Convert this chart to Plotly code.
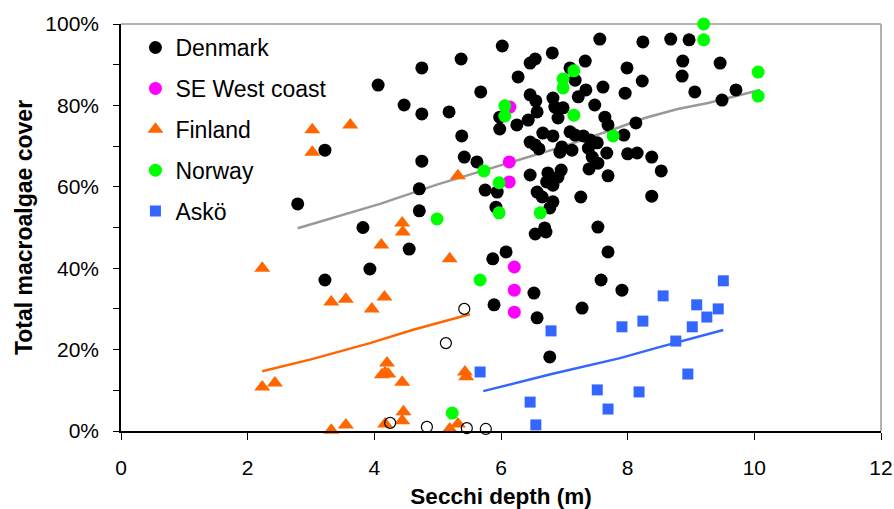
import plotly.graph_objects as go

# ---------------- data ----------------
denmark_x = [2.79, 3.22, 3.22, 3.82, 3.93, 4.06, 4.47, 4.75, 4.75, 5.18, 5.37, 6.02, 5.68, 5.38,
             4.75, 5.42, 5.62, 4.71, 4.71, 5.75, 5.94, 5.92, 5.98, 5.98, 6.25, 6.27, 6.46, 6.54,
             6.81, 6.46, 6.55, 6.43, 6.57, 6.82, 6.85, 6.98, 6.90, 6.66, 6.82, 6.46, 6.54, 6.60,
             6.96, 6.93, 7.12, 7.09, 7.17, 7.22, 7.17, 7.09, 7.33, 7.34, 7.56, 7.61, 7.48, 7.64,
             7.69, 7.30, 7.41, 7.52, 7.38, 7.44, 7.53, 7.39, 7.67, 7.69, 7.96, 7.94, 8.00, 7.99,
             6.46, 6.74, 6.95, 6.90, 6.72, 6.82, 6.57, 6.65, 6.82, 6.77, 7.26, 7.53, 6.69, 8.24,
             8.68, 8.97, 8.23, 8.87, 8.86, 9.46, 9.06, 9.71, 9.49, 8.13, 8.15, 8.38, 8.53, 8.38,
             4.55, 5.87, 6.08, 5.89, 6.54, 6.71, 7.69, 6.52, 6.57, 7.28, 7.58, 7.91, 6.77]
denmark_y = [55.8, 69.0, 37.1, 50.0, 39.8, 85.0, 80.1, 89.2, 77.9, 78.4, 91.4, 94.6, 83.3, 72.5,
             66.3, 67.3, 66.1, 59.5, 54.1, 59.2, 58.7, 55.0, 77.1, 74.2, 75.2, 87.0, 90.4, 91.4,
             92.9, 82.6, 81.1, 76.4, 78.4, 81.8, 79.6, 79.4, 76.9, 73.2, 72.5, 71.0, 70.3, 69.3,
             69.8, 68.5, 69.0, 73.5, 72.7, 82.1, 86.2, 89.2, 90.9, 83.8, 96.3, 84.5, 80.1, 77.1,
             75.2, 72.5, 71.5, 70.8, 69.5, 67.3, 65.8, 64.4, 68.3, 62.7, 83.0, 72.7, 68.1, 89.2,
             62.9, 63.4, 64.1, 62.4, 61.2, 60.4, 58.7, 57.5, 56.3, 54.8, 57.5, 50.1, 49.9, 95.6,
             96.3, 96.1, 86.0, 90.9, 87.2, 90.4, 83.3, 83.8, 81.3, 75.7, 68.3, 67.3, 63.9, 57.7,
             44.7, 42.3, 44.0, 31.0, 48.4, 48.9, 44.0, 33.9, 27.8, 30.2, 37.1, 34.6, 18.2]

se_x = [6.14, 6.13, 6.13, 6.21, 6.21, 6.21]
se_y = [79.6, 66.1, 61.2, 40.3, 34.6, 29.2]

finland_x = [3.02, 3.62, 3.02, 5.32, 4.44, 4.45, 2.23, 3.32, 3.55, 3.96, 4.11, 4.16, 5.19,
             2.23, 2.43, 3.32, 3.55, 4.20, 4.17, 4.12, 4.22, 4.44, 5.43, 5.45, 4.46, 4.44,
             4.17, 5.19, 5.32]
finland_y = [74.0, 75.2, 68.5, 62.7, 51.1, 48.9, 40.0, 31.7, 32.4, 30.0, 45.7, 32.9, 42.3,
             10.8, 11.8, 0.2, 1.5, 16.7, 14.3, 13.8, 14.0, 12.0, 14.5, 13.3, 4.7, 2.5,
             1.7, 0.5, 1.7]

norway_x = [6.06, 6.06, 7.15, 6.98, 6.98, 7.15, 7.77, 5.73, 5.97, 5.97, 6.62, 4.99,
            9.20, 9.20, 10.06, 10.06, 5.67, 5.23]
norway_y = [79.9, 77.4, 88.5, 86.5, 84.3, 77.6, 72.5, 63.9, 61.0, 53.6, 53.6, 52.1,
            100.0, 96.1, 88.2, 82.3, 37.1, 4.4]

asko_x = [5.67, 6.79, 7.91, 6.46, 6.55, 7.52, 7.69, 8.24, 8.56, 9.09, 9.25, 9.43, 9.51,
          9.02, 8.76, 8.95, 8.18]
asko_y = [14.5, 24.6, 25.6, 7.1, 1.5, 10.1, 5.4, 27.0, 33.2, 31.0, 28.0, 30.0, 36.9,
          25.6, 22.1, 14.0, 9.6]

other_x = [5.42, 5.13, 4.25, 4.83, 5.46, 5.76]
other_y = [30.0, 21.6, 2.0, 1.0, 0.7, 0.5]

trend_all_x = [2.79, 4.09, 5.0, 5.99, 7.0, 7.88, 8.27, 8.79, 9.27, 10.09]
trend_all_y = [49.8, 55.8, 60.6, 65.2, 70.0, 74.7, 76.9, 79.1, 80.6, 83.8]

trend_fin_x = [2.23, 3.0, 3.93, 4.6, 5.51]
trend_fin_y = [14.7, 17.6, 21.6, 24.8, 28.7]

trend_asko_x = [5.72, 6.8, 7.88, 8.5, 9.51]
trend_asko_y = [9.8, 14.0, 17.9, 20.6, 24.8]

x_ticks = [0, 2, 4, 6, 8, 10, 12]
y_ticks = [0, 20, 40, 60, 80, 100]
y_tick_text = ["0%", "20%", "40%", "60%", "80%", "100%"]

# ---------------- figure ----------------
FONT = "Liberation Sans, Arial, sans-serif"
fig = go.Figure()

fig.add_trace(go.Scatter(x=trend_all_x, y=trend_all_y, mode="lines",
                         line=dict(color="#999999", width=2.5), showlegend=False, hoverinfo="skip"))
fig.add_trace(go.Scatter(x=trend_fin_x, y=trend_fin_y, mode="lines",
                         line=dict(color="#FF6600", width=2.5), showlegend=False, hoverinfo="skip"))
fig.add_trace(go.Scatter(x=trend_asko_x, y=trend_asko_y, mode="lines",
                         line=dict(color="#3366FF", width=2.5), showlegend=False, hoverinfo="skip"))

fig.add_trace(go.Scatter(x=denmark_x, y=denmark_y, mode="markers", name="Denmark",
                         legendgroup="a", marker=dict(color="black", size=13, symbol="circle")))
fig.add_trace(go.Scatter(x=se_x, y=se_y, mode="markers", name="SE West coast",
                         legendgroup="b", marker=dict(color="#FF00FF", size=13, symbol="circle")))
fig.add_trace(go.Scatter(x=finland_x, y=finland_y, mode="markers", name="Finland",
                         legendgroup="c", cliponaxis=False,
                         marker=dict(color="#FF6600", size=14, symbol="triangle-up")))
fig.add_trace(go.Scatter(x=norway_x, y=norway_y, mode="markers", name="Norway",
                         legendgroup="d", cliponaxis=False,
                         marker=dict(color="#00FF00", size=13, symbol="circle")))
fig.add_trace(go.Scatter(x=asko_x, y=asko_y, mode="markers", name="Askö",
                         legendgroup="e", cliponaxis=False,
                         marker=dict(color="#3366FF", size=11, symbol="square")))
fig.add_trace(go.Scatter(x=other_x, y=other_y, mode="markers", showlegend=False,
                         cliponaxis=False,
                         marker=dict(color="rgba(0,0,0,0)", size=11, symbol="circle",
                                     line=dict(color="black", width=1.2))))

# gray top/right frame
fig.add_shape(type="line", xref="paper", yref="paper", x0=0, x1=1, y0=1, y1=1,
              line=dict(color="#999999", width=1.5), layer="below")
fig.add_shape(type="line", xref="paper", yref="paper", x0=1, x1=1, y0=0, y1=1,
              line=dict(color="#999999", width=1.5), layer="below")

fig.update_layout(
    width=894, height=509,
    margin=dict(l=121, r=13, t=24, b=78, autoexpand=False),
    paper_bgcolor="white", plot_bgcolor="white",
    font=dict(family=FONT, size=21, color="black"),
    legend=dict(x=0.019, y=0.995, xanchor="left", yanchor="top",
                bgcolor="rgba(0,0,0,0)", font=dict(size=23),
                tracegroupgap=8, traceorder="grouped", itemwidth=30),
    xaxis=dict(range=[0, 12], tickvals=x_ticks, ticks="outside", ticklen=7, automargin=False,
               tickcolor="black", showline=True, linecolor="black", linewidth=1.5,
               showgrid=False, zeroline=False, ticklabelstandoff=10,
               title=dict(text="<b>Secchi depth (m)</b>", font=dict(size=22.5), standoff=12)),
    yaxis=dict(range=[0, 100], tickvals=y_ticks, ticktext=y_tick_text, ticks="outside",
               ticklen=6, tickcolor="black", showline=True, linecolor="black", linewidth=1.5,
               showgrid=False, zeroline=False, ticklabelstandoff=10, automargin=False,
               minor=dict(tickvals=[10, 30, 50, 70, 90], ticks="outside", ticklen=6,
                          tickcolor="black"),
               title=dict(text="<b>Total macroalgae cover</b>", font=dict(size=23), standoff=6)),
)

fig.write_html("out.html", config={"displayModeBar": False},
               post_script="document.body.style.margin='0px';document.body.style.overflow='hidden';")
